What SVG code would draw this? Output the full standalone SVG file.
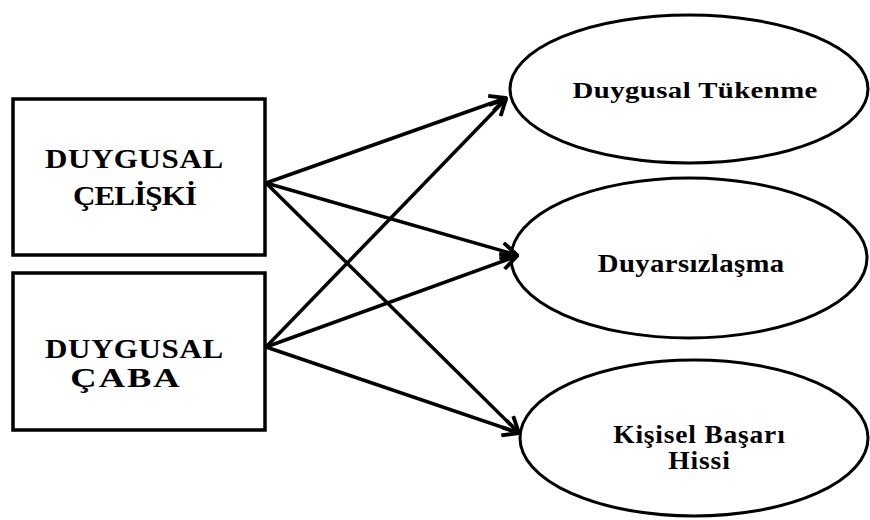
<svg xmlns="http://www.w3.org/2000/svg" width="870" height="520" viewBox="0 0 870 520">
<style>
.box{fill:#fff;stroke:#000;stroke-width:3.5}
.ell{fill:#fff;stroke:#000;stroke-width:3}
.t{font-family:"Liberation Serif","Times New Roman",serif;font-weight:bold;fill:#000;text-anchor:middle}
.conn line{stroke:#000;stroke-width:3.5}
</style>
<defs>
<marker id="arr" viewBox="0 0 12 12" refX="11" refY="6" markerWidth="5.5" markerHeight="5.5" orient="auto" markerUnits="strokeWidth">
<polyline points="1,1 11,6 1,11" fill="none" stroke="#000" stroke-width="2.4" stroke-linejoin="miter"/>
</marker>
</defs>
<rect width="870" height="520" fill="#fff"/>
<g id="node-celiski">
<rect class="box" x="13" y="99" width="252" height="156"/>
<text class="t" transform="translate(134,168) scale(1.15,1)" font-size="27" textLength="155" lengthAdjust="spacing">DUYGUSAL</text>
<text class="t" transform="translate(135,205) scale(1.15,1)" font-size="27" textLength="108" lengthAdjust="spacing">ÇELİŞKİ</text>
</g>
<g id="node-caba">
<rect class="box" x="13" y="273" width="252" height="157"/>
<text class="t" transform="translate(134,358) scale(1.15,1)" font-size="27" textLength="155" lengthAdjust="spacing">DUYGUSAL</text>
<text class="t" transform="translate(125,387) scale(1.35,1)" font-size="27" textLength="81" lengthAdjust="spacing">ÇABA</text>
</g>
<g id="node-tukenme">
<ellipse class="ell" cx="689" cy="89" rx="179" ry="74"/>
<text class="t" transform="translate(695,98) scale(1.2,1)" font-size="24" textLength="204" lengthAdjust="spacing">Duygusal Tükenme</text>
</g>
<g id="node-duyarsizlasma">
<ellipse class="ell" cx="689" cy="258" rx="178" ry="80"/>
<text class="t" transform="translate(691,272) scale(1.15,1)" font-size="25" textLength="162" lengthAdjust="spacing">Duyarsızlaşma</text>
</g>
<g id="node-basari">
<ellipse class="ell" cx="694" cy="438" rx="174" ry="78"/>
<text class="t" transform="translate(699,443) scale(1.1,1)" font-size="25" textLength="156" lengthAdjust="spacing">Kişisel Başarı</text>
<text class="t" transform="translate(699,469) scale(1.1,1)" font-size="25" textLength="56" lengthAdjust="spacing">Hissi</text>
</g>
<g class="conn" id="connectors">
<line x1="266" y1="183" x2="506" y2="98" marker-end="url(#arr)"/>
<line x1="266" y1="183" x2="517" y2="255" marker-end="url(#arr)"/>
<line x1="266" y1="183" x2="519" y2="433" marker-end="url(#arr)"/>
<line x1="266" y1="347" x2="506" y2="99" marker-end="url(#arr)"/>
<line x1="266" y1="347" x2="517" y2="256" marker-end="url(#arr)"/>
<line x1="266" y1="347" x2="519" y2="433" marker-end="url(#arr)"/>
</g>
</svg>
